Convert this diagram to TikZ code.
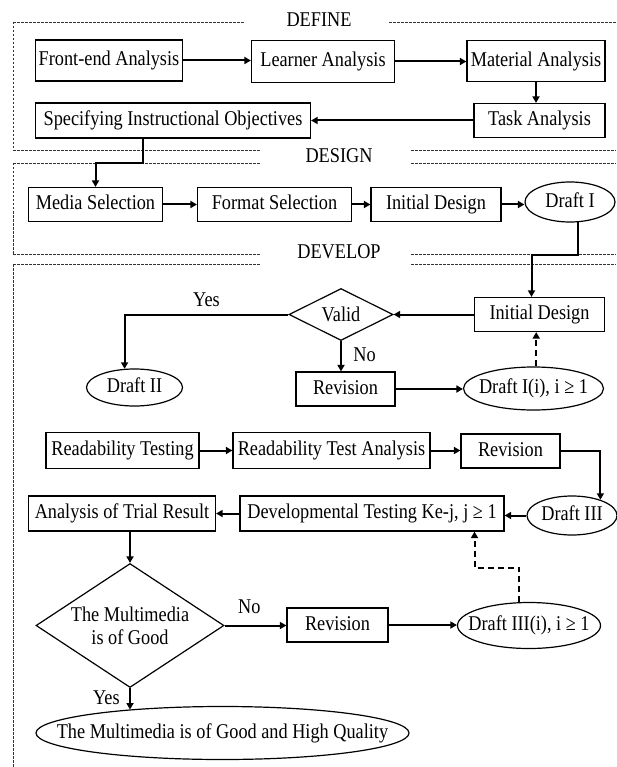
\documentclass[tikz,border=0pt]{standalone}
\usepackage{fontspec}
\setmainfont{Liberation Serif}[FakeStretch=0.87]
\usetikzlibrary{positioning,shapes.geometric,arrows.meta}
\tikzset{%
  txt/.style={text height=14.5pt,text depth=4pt},
  box/.style={draw,txt,line width=1.2pt,inner sep=0pt,minimum height=34pt},
  oval/.style={draw,ellipse,txt,line width=1.2pt,inner sep=0pt},
  decision/.style={draw,diamond,line width=1.2pt,inner sep=0pt,align=center},
  arr/.style={line width=2pt,-{Triangle[length=6.5pt,width=7pt]}},
  darr/.style={arr,dash pattern=on 6pt off 4pt},
  frame/.style={line width=0.8pt,black!80,dash pattern=on 2.5pt off 1.5pt}
}
\newcommand{\ovtext}[1]{\makebox[0pt]{#1}}

\begin{document}
\begin{tikzpicture}[x=1pt,y=1pt,font=\fontsize{21}{23}\selectfont]
  \fill[white] (0,0) rectangle (616,-767);
  \useasboundingbox (0,0) rectangle (616,-767);

  % phase frames
  \draw[frame] (13,-22) -- (244,-22) (389,-22) -- (616,-22);
  \foreach \y in {150,163,254,264}
    \draw[frame] (13,-\y) -- (261,-\y) (411,-\y) -- (616,-\y);
  \draw[frame] (13,-22) -- (13,-150);
  \draw[frame] (13,-163) -- (13,-254);
  \draw[frame] (13,-264) -- (13,-767);
  \node[txt] (tdef) at (319,-21) {DEFINE};
  \node[txt] (tdes) at (339,-157.5) {DESIGN};
  \node[txt] (tdev) at (339,-253.5) {DEVELOP};

  % define
  \node[box,minimum width=147pt,minimum height=41pt] (fea) at (109,-60.5) {Front-end Analysis};
  \node[box,minimum width=143pt,minimum height=42pt] (la) at (323,-61.5) {Learner Analysis};
  \node[box,minimum width=138pt,minimum height=41pt] (ma) at (536,-61) {Material Analysis};
  \node[box,minimum width=131pt] (ta) at (539.5,-120.5) {Task Analysis};
  \node[box,minimum width=275pt,minimum height=35pt] (sio) at (173,-120.5) {Specifying Instructional Objectives};

  % design
  \node[box,minimum width=134pt] (ms) at (95.5,-204.5) {Media Selection};
  \node[box,minimum width=154pt] (fs) at (274.5,-204.5) {Format Selection};
  \node[box,minimum width=130pt] (id) at (436,-204.5) {Initial Design};
  \node[oval,minimum width=90pt,minimum height=40pt] (d1) at (570,-202) {\ovtext{Draft I}};

  % develop
  \node[box,minimum width=130pt] (id2) at (539.5,-314.5) {Initial Design};
  \node[decision,aspect=2,minimum width=104pt,minimum height=52pt] (valid) at (341,-314.5) {Valid};
  \node[oval,minimum width=96pt,minimum height=37pt] (d2) at (134.5,-387.5) {\ovtext{Draft II}};
  \node[box,minimum width=99pt] (rev1) at (345.5,-389) {Revision};
  \node[oval,minimum width=140pt,minimum height=43pt] (d1i) at (533.5,-388.5) {\ovtext{Draft I(i), i ≥ 1}};
  \node[box,minimum width=153pt,minimum height=36pt] (rt) at (122.5,-450.5) {Readability Testing};
  \node[box,minimum width=197pt,minimum height=36pt] (rta) at (331.5,-450.5) {Readability Test Analysis};
  \node[box,minimum width=99pt] (rev2) at (510.5,-451) {Revision};
  \node[oval,minimum width=90pt,minimum height=39pt] (d3) at (572,-515.5) {\ovtext{Draft III}};
  \node[box,minimum width=187pt,minimum height=35pt] (atr) at (122,-513.5) {Analysis of Trial Result};
  \node[box,minimum width=264pt,minimum height=35pt] (dt) at (372,-513.5) {Developmental Testing Ke-j, j ≥ 1};
  \node[decision,aspect=1.5,minimum width=188pt,minimum height=124pt] (good) at (130,-625.5) {The Multimedia\\is of Good};
  \node[box,minimum width=101pt] (rev3) at (337.5,-625) {Revision};
  \node[oval,minimum width=143pt,minimum height=46pt] (d3i) at (529,-625.5) {\ovtext{Draft III(i), i ≥ 1}};
  \node[oval,minimum width=373pt,minimum height=53pt] (final) at (222.5,-733) {\ovtext{The Multimedia is of Good and High Quality}};

  % connectors
  \draw[arr] (fea.east) -- (fea.east -| la.west);
  \draw[arr] (la.east) -- (la.east -| ma.west);
  \draw[arr] (ma.south) -- (ma.south |- ta.north);
  \draw[arr] (ta.west) -- (ta.west -| sio.east);
  \draw[arr] ([xshift=-30.5pt]sio.south) |- ([yshift=24pt]ms.north) -- (ms.north);
  \draw[arr] (ms) -- (fs);
  \draw[arr] (fs) -- (id);
  \draw[arr] (id.east) -- (id.east -| d1.west);
  \draw[arr] (d1.-69) |- ([xshift=-8pt,yshift=42pt]id2.north) -- ([xshift=-8pt]id2.north);
  \draw[arr] (id2) -- (valid);
  \draw[arr] (valid.west) -| node[pos=0.25,above,txt] {Yes} (d2.118);
  \draw[arr] (valid.south) -- node[right=8pt,txt] {No} (valid.south |- rev1.north);
  \draw[arr] (rev1.east) -- (rev1.east -| d1i.west);
  \draw[darr] (d1i.83) -- (d1i.83 |- id2.south);
  \draw[arr] (rt) -- (rta);
  \draw[arr] (rta.east) -- (rta.east -| rev2.west);
  \draw[arr] (rev2.east) -| (d3.29);
  \draw[arr] (d3.west) -- (d3.west -| dt.east);
  \draw[arr] (dt.west) -- (dt.west -| atr.east);
  \draw[arr] (atr.south -| good.north) -- (good.north);
  \draw[arr] (good.east) -- node[pos=0.4,above=4pt,txt] {No} (good.east -| rev3.west);
  \draw[arr] (rev3.east) -- (rev3.east -| d3i.west);
  \draw[darr] (d3i.113) |- ([xshift=102.5pt,yshift=-36pt]dt.south) -- ([xshift=102.5pt]dt.south);
  \draw[arr] (good.south) -- node[left=6pt,txt] {Yes} (good.south |- final.166);
\end{tikzpicture}
\end{document}
